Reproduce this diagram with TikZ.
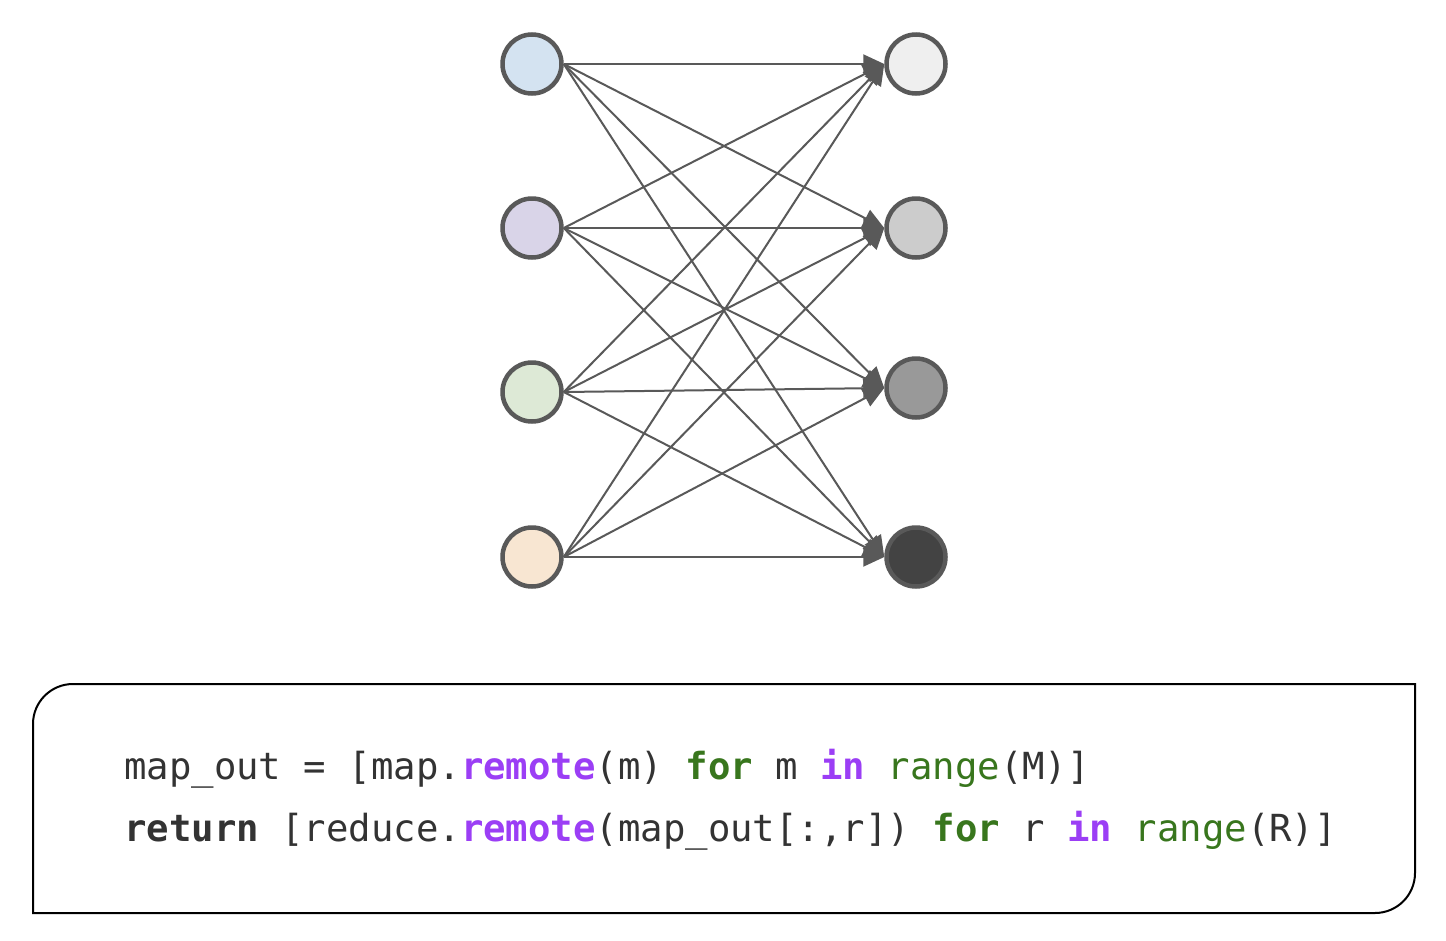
\documentclass[tikz,border=0pt]{standalone}
\usepackage{fontspec}
\setmonofont{DejaVu Sans Mono}
\usetikzlibrary{arrows.meta}
\definecolor{edgec}{HTML}{595959}
\definecolor{txt}{HTML}{333333}
\definecolor{kwgreen}{HTML}{38761D}
\definecolor{kwpurple}{HTML}{9B3EF5}
\definecolor{fa}{HTML}{D4E3F1}
\definecolor{fb}{HTML}{D9D4E8}
\definecolor{fc}{HTML}{DDE9D6}
\definecolor{fd}{HTML}{F8E6D2}
\definecolor{ga}{HTML}{EFEFEF}
\definecolor{gb}{HTML}{CCCCCC}
\definecolor{gc}{HTML}{999999}
\definecolor{gd}{HTML}{434343}
\newcommand{\kwg}[1]{\textcolor{kwgreen}{\bfseries #1}}
\newcommand{\kwp}[1]{\textcolor{kwpurple}{\bfseries #1}}
\newcommand{\fng}[1]{\textcolor{kwgreen}{#1}}
\begin{document}
\begin{tikzpicture}[x=1pt,y=-1pt,
  blob/.style={circle,draw=edgec,line width=4.5pt,minimum size=59pt,inner sep=0pt},
  link/.style={draw=edgec,line width=2pt,-{Triangle[length=21pt,width=19pt]}},
  codeline/.style={anchor=base west,inner sep=0pt,font=\ttfamily\fontsize{37.3}{44}\selectfont,text=txt}]
\useasboundingbox[fill=white] (0,0) rectangle (1446,940);
\node[blob,fill=fa] (m1) at (532,64) {};
\node[blob,fill=fb] (m2) at (532,228) {};
\node[blob,fill=fc] (m3) at (532,392) {};
\node[blob,fill=fd] (m4) at (532,557) {};
\node[blob,fill=ga] (r1) at (916,64) {};
\node[blob,fill=gb] (r2) at (916,228) {};
\node[blob,fill=gc] (r3) at (916,388) {};
\node[blob,fill=gd] (r4) at (916,557) {};
\foreach \i in {1,...,4}{
  \foreach \j in {1,...,4}{
    \draw[link] (m\i.east) -- (r\j.west);
  }
}
\draw[black,line width=2pt] (33,913) -- (33,724) arc[start angle=180,end angle=270,radius=40] -- (1415,684) -- (1415,873) arc[start angle=0,end angle=90,radius=40] -- cycle;
\node[codeline] (c1) at (124,779) {map\_out = [map.\kwp{remote}(m) \kwg{for} m \kwp{in} \fng{range}(M)]};
\node[codeline] (c2) at (124,841) {\textbf{return} [reduce.\kwp{remote}(map\_out[:,r]) \kwg{for} r \kwp{in} \fng{range}(R)]};
\end{tikzpicture}
\end{document}
